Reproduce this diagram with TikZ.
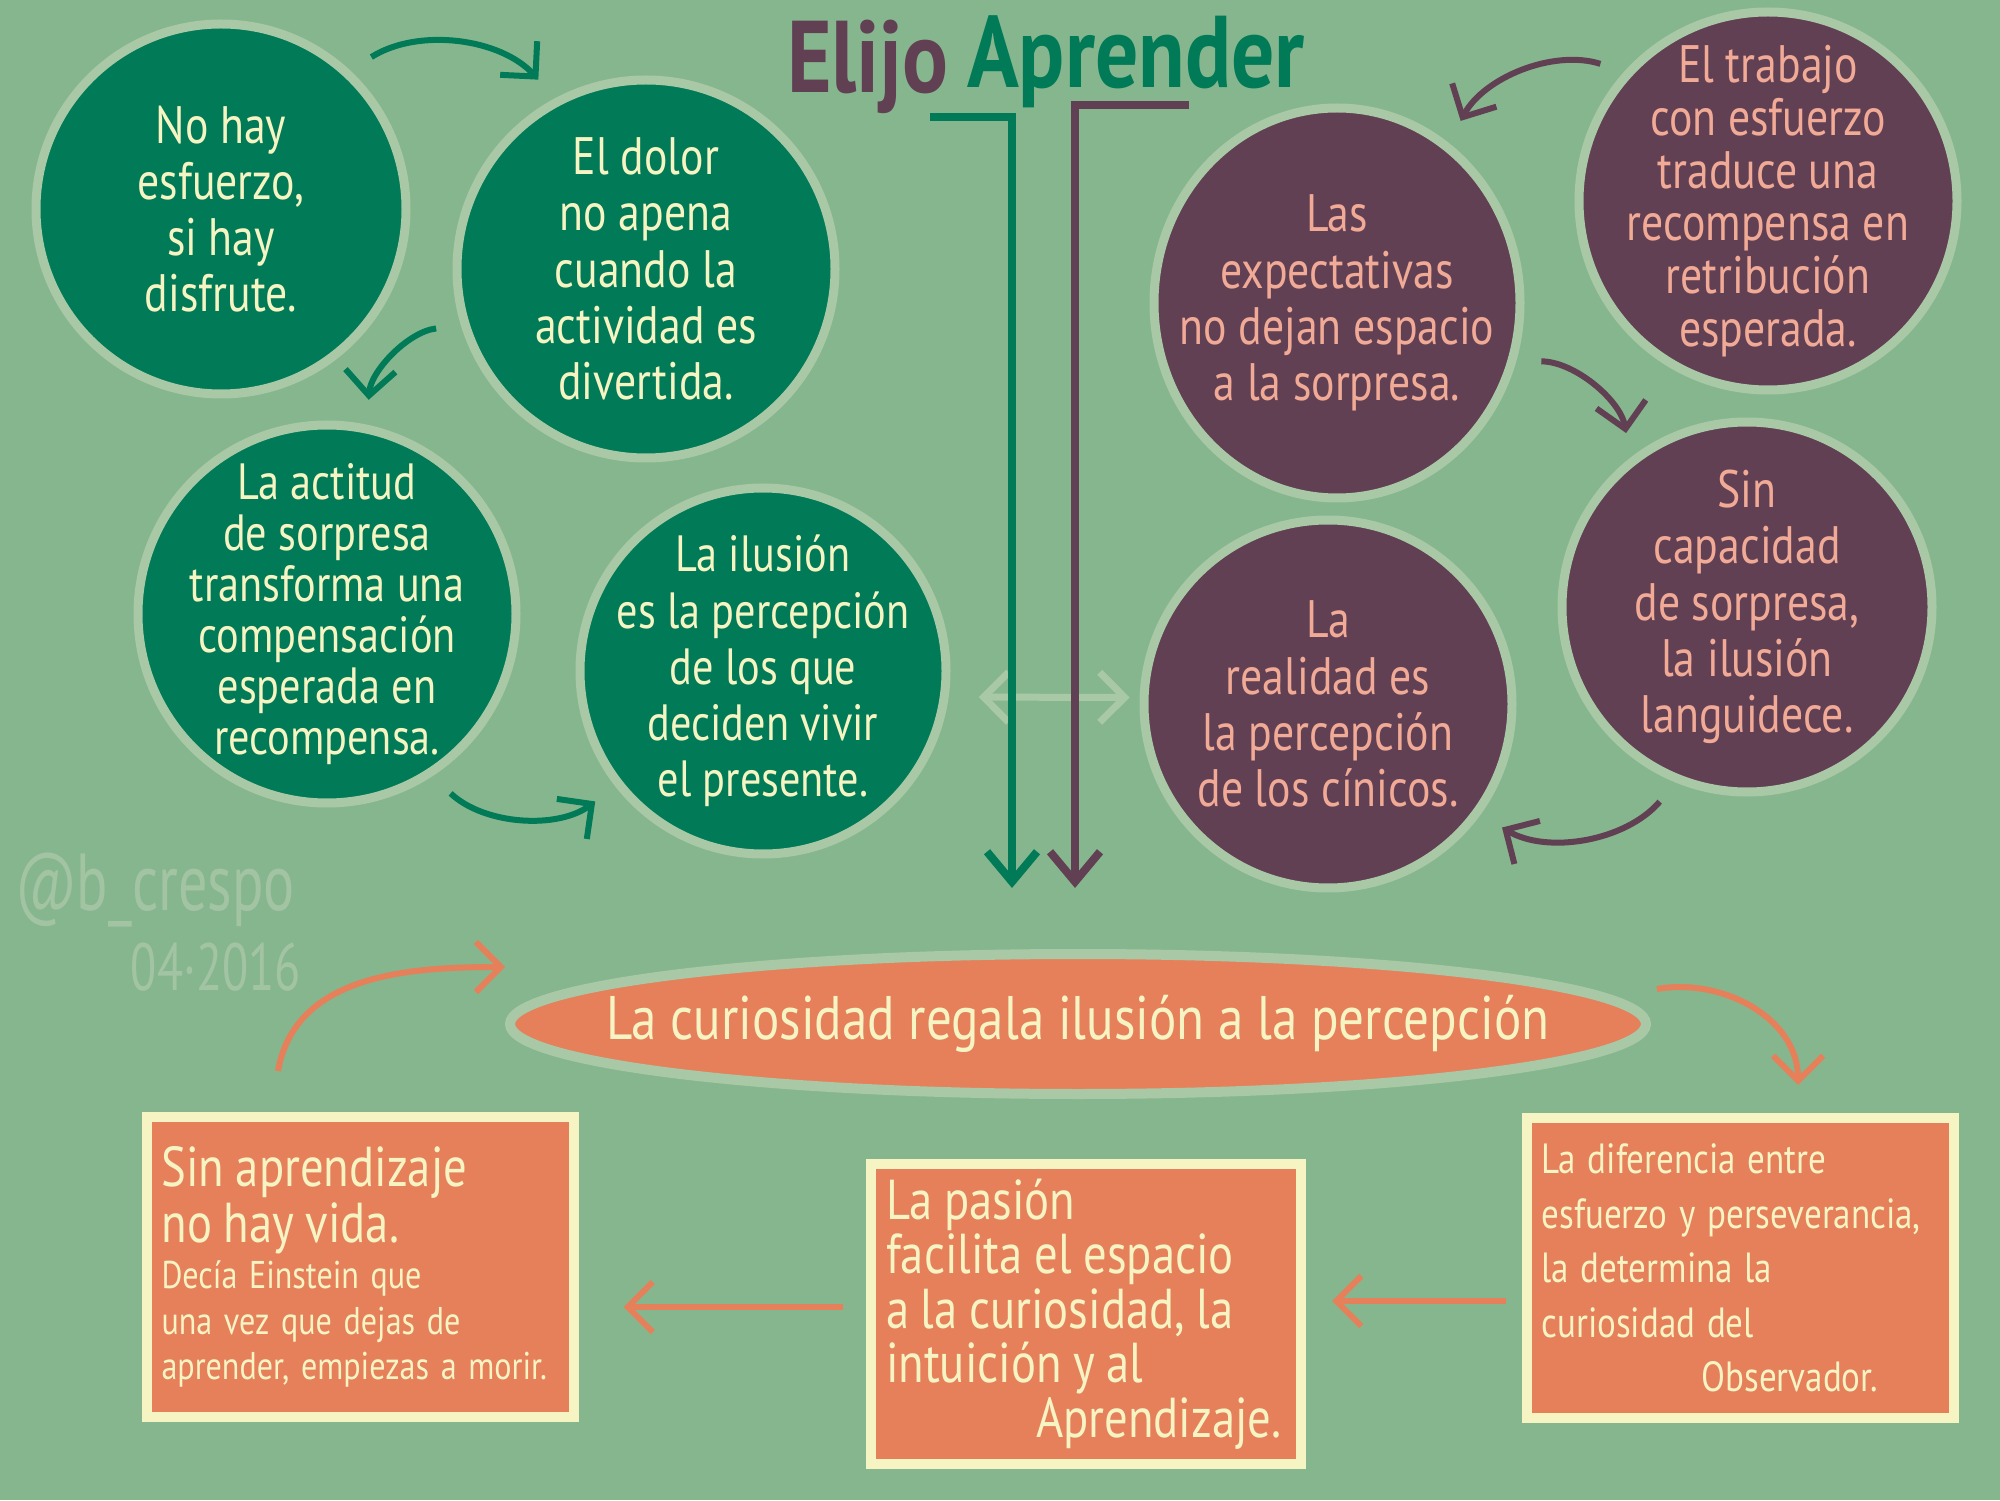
\documentclass[tikz,border=0pt]{standalone}
\usepackage{fontspec}
\setmainfont{PT Sans}[FakeStretch=0.83]
\newfontfamily\titlefont{PT Sans}[FakeStretch=0.84]
\newfontfamily\tagfont{PT Sans}[FakeStretch=0.72]
\usetikzlibrary{shapes.geometric, arrows.meta, calc}

\definecolor{meadow}{RGB}{134,182,142}
\definecolor{pine}{RGB}{0,122,87}
\definecolor{plum}{RGB}{98,64,84}
\definecolor{coral}{RGB}{229,128,91}
\definecolor{sage}{RGB}{168,200,166}
\definecolor{cream}{RGB}{247,244,196}
\definecolor{blush}{RGB}{240,170,150}
\definecolor{faint}{RGB}{163,196,163}

\tikzset{
  greenball/.style={ellipse, fill=pine, draw=sage, line width=0.9mm,
    minimum width=3.7cm, minimum height=3.7cm, inner sep=-1cm,
    text=cream, align=center, font=\fontsize{15}{16}\selectfont},
  plumball/.style={greenball, fill=plum, text=blush},
  card/.style={rectangle, fill=coral, draw=cream, line width=1mm,
    minimum width=4.27cm, minimum height=3cm, inner sep=1.5mm,
    text width=3.97cm, align=left, text=cream},
  tip/.style={-{Straight Barb[length=2.5mm,width=5mm]}},
  gcurve/.style={tip, draw=pine, line width=0.6mm, shorten <=2.5mm, shorten >=2.5mm},
  pcurve/.style={gcurve, draw=plum},
  ocurve/.style={tip, draw=coral, line width=0.6mm},
}

\begin{document}
\begin{tikzpicture}
\useasboundingbox (0,0) rectangle (20,15);
\fill[meadow] (0,0) rectangle (20,15);

%Start with the title, then the green bubbles on the left
% and the plum bubbles on the right, and finish with
% the orange ellipse and the three cards below it
\node[anchor=base, text=plum, font=\fontsize{29}{29}\titlefont\bfseries] (elijo) at (8.68,14.07) {Elijo};
\node[anchor=base, text=pine, font=\fontsize{29}{29}\titlefont\bfseries] (aprender) at (11.36,14.12) {Aprender};

\node[greenball] (c1) at (2.21,12.91) {No hay\\ esfuerzo,\\ si hay\\ disfrute.};
\node[greenball, minimum size=3.78cm] (c2) at (6.46,12.31) {El dolor\\ no apena\\ cuando la\\ actividad es\\ divertida.};
\node[greenball, minimum size=3.78cm, font=\fontsize{14.5}{14.5}\selectfont] (c3) at (3.27,8.86) {La actitud\\ de sorpresa\\ transforma una\\ compensación\\ esperada en\\ recompensa.};
\node[greenball, minimum size=3.66cm, font=\fontsize{14.5}{16}\selectfont] (c4) at (7.63,8.29) {La ilusión\\ es la percepción\\ de los que\\ deciden vivir\\ el presente.};

\node[plumball, minimum width=3.66cm, minimum height=3.9cm] (c5) at (13.37,11.97) {Las\\ expectativas\\ no dejan espacio\\ a la sorpresa.};
\node[plumball, minimum size=3.78cm, font=\fontsize{15}{15}\selectfont] (c6) at (17.68,12.99) {El trabajo\\ con esfuerzo\\ traduce una\\ recompensa en\\ retribución\\ esperada.};
\node[plumball] (c7) at (17.47,8.93) {Sin\\ capacidad\\ de sorpresa,\\ la ilusión\\ languidece.};
\node[plumball, minimum size=3.68cm] (c8) at (13.28,7.96) {La\\ realidad es\\ la percepción\\ de los cínicos.};

\node[ellipse, fill=coral, draw=sage, line width=1mm, minimum width=11.36cm,
  minimum height=1.4cm, inner sep=-1cm, text=cream,
  font=\fontsize{17.5}{18}\selectfont] (ell) at (10.78,4.76)
  {La curiosidad regala ilusión a la percepción};

\node[card] (box1) at (3.60,2.33) {\fontsize{16}{16}\selectfont Sin aprendizaje\\ no hay vida.\par
  {\fontsize{11}{13}\selectfont Decía Einstein que\\ una vez que dejas de\\ aprender, empiezas a morir.\par}};
\node[card, minimum width=4.3cm, text width=4cm] (box2) at (10.86,1.86) {\fontsize{16}{15.5}\selectfont La pasión\\ facilita el espacio\\ a la curiosidad, la\\ intuición y al\\ \hspace*{1.5cm}\mbox{Aprendizaje.}\par};
\node[card] (box3) at (17.40,2.32) {\fontsize{12}{15.5}\selectfont La diferencia entre\\ esfuerzo y perseverancia,\\ la determina la\\ curiosidad del\\ \hspace*{1.6cm}\mbox{Observador.}\par};

\node[text=faint, font=\fontsize{23}{23}\tagfont] (tag) at (1.55,6.10) {@b\_crespo};
\node[text=faint, font=\fontsize{19}{19}\tagfont] (date) at (2.16,5.33) {04·2016};

% curved arrows between the bubbles
\draw[gcurve] (c1.47) to[bend left=40] (c2.118);
\draw[gcurve] (c2.197) to[bend right=40] (c3.78);
\draw[gcurve] (c3.-57) to[bend right=40] (c4.218);
\draw[pcurve] (c6.138) to[bend right=40] (c5.55);
\draw[pcurve] (c5.-18) to[bend left=40] (c7.128);
\draw[pcurve] (c7.248) to[bend left=40] (c8.-36);

\draw[{Straight Barb[length=2.5mm,width=5mm]}-{Straight Barb[length=2.5mm,width=5mm]},
  draw=sage, line width=0.7mm, shorten <=3mm, shorten >=1mm] (c4.-8) -- (c8.178);

% the two long lines from the title down to the ellipse
\coordinate (gstart) at (9.30,13.83);
\coordinate (pstart) at (11.89,13.95);
\draw[-{Straight Barb[length=3mm,width=5mm]}, draw=pine, line width=0.8mm]
  (gstart) -| ($(ell.north)+(-0.66,0.61)$);
\draw[-{Straight Barb[length=3mm,width=5mm]}, draw=plum, line width=0.8mm]
  (pstart) -| ($(ell.north)+(-0.03,0.61)$);

% orange loop round the cards
\draw[ocurve] ($(box1.north)+(-0.82,0.41)$) to[out=80,in=180] ($(ell.west)+(0,0.57)$);
\draw[ocurve] ($(ell.east)+(0.06,0.35)$) to[out=10,in=90] ($(box3.north)+(0.58,0.28)$);
\draw[ocurve] ($(box3.west)+(-0.16,-0.33)$) -- ($(box2.east)+(0.26,0.13)$);
\draw[ocurve] ($(box2.west)+(-0.23,0.07)$) -- ($(box1.east)+(0.45,-0.40)$);
\end{tikzpicture}
\end{document}
